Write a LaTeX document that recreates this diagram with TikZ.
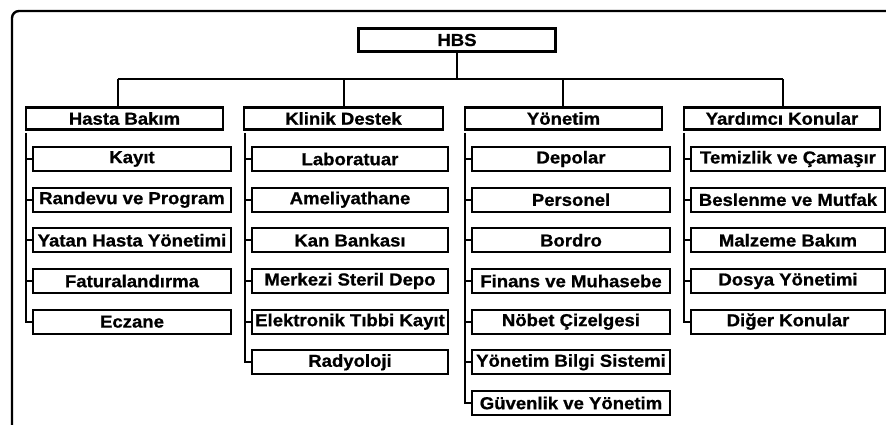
\documentclass[tikz,border=0pt]{standalone}
\usepackage{fontspec}
\setmainfont{Liberation Sans}[FakeStretch=1.07,BoldFeatures={FakeBold=0.8}]
\begin{document}
\begin{tikzpicture}[x=0.75pt,y=-0.75pt,
  box/.style={draw=black,line width=1.6pt,fill=white,inner sep=0pt,
    font=\fontsize{13pt}{15pt}\selectfont\bfseries,text=black},
  topbox/.style={box,minimum width=197*0.75pt,minimum height=23*0.75pt},
  headbox/.style={box,minimum height=22*0.75pt},
  itembox/.style={box,minimum height=24*0.75pt},
  conn/.style={line width=1.6pt,black},
  frame/.style={line width=1.8pt,black,rounded corners=7*0.75pt}]
\useasboundingbox (0,0) rectangle (886,425);

% outer frame (only top and left sides fall inside the page)
\draw[frame] (12,440) -- (12,11) -- (900,11);

% root
\node[topbox] (hbs) at (457,40) {HBS};

% first level
\node[headbox,minimum width=197*0.75pt] (hb) at (124.5,118.5) {Hasta Bakım};
\node[headbox,minimum width=199*0.75pt] (kd) at (343.5,118.5) {Klinik Destek};
\node[headbox,minimum width=197*0.75pt] (yn) at (563.5,118.5) {Yönetim};
\node[headbox,minimum width=196*0.75pt] (yk) at (782,118.5) {Yardımcı Konular};

% bus from the root to the first level
\coordinate (d1) at (117.7,79);
\coordinate (d2) at (344,79);
\coordinate (d3) at (563,79);
\coordinate (d4) at (783,79);
\draw[conn] (hbs.south) -- (hbs.south |- d1);
\draw[conn] (d1) -- (d4);
\foreach \d/\n in {d1/hb,d2/kd,d3/yn,d4/yk}
  \draw[conn] (\d) -- (\d |- \n.north);

% Hasta Bakim items
\begin{scope}[every node/.style={itembox,minimum width=198*0.75pt}]
\node (h1) at (132,159) {Kayıt};
\node (h2) at (132,199.7) {Randevu ve Program};
\node (h3) at (132,240.3) {Yatan Hasta Yönetimi};
\node (h4) at (132,281) {Faturalandırma};
\node (h5) at (132,321.7) {Eczane};
\end{scope}

% Klinik Destek items
\begin{scope}[every node/.style={itembox,minimum width=196*0.75pt}]
\node (k1) at (350,159) {Laboratuar};
\node (k2) at (350,199.7) {Ameliyathane};
\node (k3) at (350,240.3) {Kan Bankası};
\node (k4) at (350,281) {Merkezi Steril Depo};
\node (k5) at (350,321.7) {Elektronik Tıbbi Kayıt};
\node (k6) at (350,362.3) {Radyoloji};
\end{scope}

% Yonetim items
\begin{scope}[every node/.style={itembox,minimum width=198*0.75pt}]
\node (y1) at (571,159) {Depolar};
\node (y2) at (571,199.7) {Personel};
\node (y3) at (571,240.3) {Bordro};
\node (y4) at (571,281) {Finans ve Muhasebe};
\node (y5) at (571,321.7) {Nöbet Çizelgesi};
\node (y6) at (571,362.3) {Yönetim Bilgi Sistemi};
\node (y7) at (571,403) {Güvenlik ve Yönetim};
\end{scope}

% Yardimci Konular items
\begin{scope}[every node/.style={itembox,minimum width=194*0.75pt}]
\node (a1) at (788,159) {Temizlik ve Çamaşır};
\node (a2) at (788,199.7) {Beslenme ve Mutfak};
\node (a3) at (788,240.3) {Malzeme Bakım};
\node (a4) at (788,281) {Dosya Yönetimi};
\node (a5) at (788,321.7) {Diğer Konular};
\end{scope}

% spines with stubs to each item
\coordinate (s1) at (26,133);
\coordinate (s2) at (245,133);
\coordinate (s3) at (465,133);
\coordinate (s4) at (684,133);
\draw[conn] (s1) |- (h5.west);
\foreach \n in {h1,h2,h3,h4} \draw[conn] (s1 |- \n.west) -- (\n.west);
\draw[conn] (s2) |- (k6.west);
\foreach \n in {k1,k2,k3,k4,k5} \draw[conn] (s2 |- \n.west) -- (\n.west);
\draw[conn] (s3) |- (y7.west);
\foreach \n in {y1,y2,y3,y4,y5,y6} \draw[conn] (s3 |- \n.west) -- (\n.west);
\draw[conn] (s4) |- (a5.west);
\foreach \n in {a1,a2,a3,a4} \draw[conn] (s4 |- \n.west) -- (\n.west);
\end{tikzpicture}
\end{document}
